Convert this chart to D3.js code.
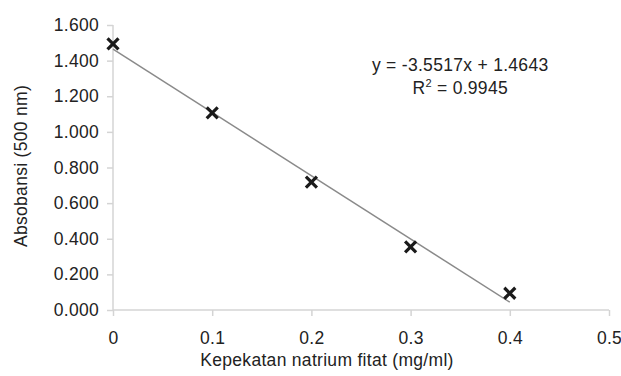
<!DOCTYPE html>
<html>
<head>
<meta charset="utf-8">
<script src="https://cdn.jsdelivr.net/npm/d3@7"></script>
<style>
  body { margin: 0; background: #fff; }
  text { font-family: "Liberation Sans", Arial, sans-serif; fill: #222; letter-spacing: 0.3px; }
</style>
</head>
<body>
<svg id="svg" width="621" height="376"></svg>
<script>
// data
const concentrations = [0, 0.1, 0.2, 0.3, 0.4];
const absorbances = [1.494, 1.107, 0.718, 0.355, 0.094];
const xTicks = [0, 0.1, 0.2, 0.3, 0.4, 0.5];
const yTicks = [0, 0.2, 0.4, 0.6, 0.8, 1.0, 1.2, 1.4, 1.6];
const trendSlope = -3.5517;
const trendIntercept = 1.4643;
const trendRange = [0, 0.4];
const equationLabel = 'y = -3.5517x + 1.4643';
const r2Value = '0.9945';

const margin = { top: 25, right: 12, bottom: 66, left: 113 };
const fontSize = '17.5px';

const svg = d3.select('#svg');
const g = svg.append('g')
  .attr('transform', 'translate(' + margin.left + ',' + margin.top + ')');

const x = d3.scaleLinear().domain([0, 0.5]).range([0, 496]);
const y = d3.scaleLinear().domain([0, 1.6]).range([285, 0]);

// axes
const xAxis = d3.axisBottom(x)
  .tickValues(xTicks)
  .tickSize(6)
  .tickPadding(16)
  .tickFormat(d => d === 0 ? '0' : d3.format('.1f')(d));
const gx = g.append('g')
  .attr('class', 'axis axis--x')
  .attr('transform', 'translate(0,285)')
  .call(xAxis);

const yAxis = d3.axisLeft(y)
  .tickValues(yTicks)
  .tickSize(6)
  .tickPadding(8)
  .tickFormat(d3.format('.3f'));
const gy = g.append('g')
  .attr('class', 'axis axis--y')
  .call(yAxis);

[gx, gy].forEach(a => {
  a.selectAll('path, line').attr('stroke', '#d4d4d4').attr('stroke-width', 1.5);
  a.select('.domain').attr('d', a === gx ? 'M0,0H496' : 'M0,0V285');
  a.selectAll('text')
    .style('font-size', fontSize)
    .attr('fill', '#222');
});
gx.selectAll('text').attr('dy', '0.71em');

// trendline
const line = d3.line()
  .x(d => x(d))
  .y(d => y(trendSlope * d + trendIntercept));
g.append('path')
  .datum(trendRange)
  .attr('d', line)
  .attr('fill', 'none')
  .attr('stroke', '#8a8a8a')
  .attr('stroke-width', 1.5);

// markers
const pts = concentrations.map((c, i) => ({ c: c, a: absorbances[i] }));
const s = 5.5;
g.append('g')
  .selectAll('path')
  .data(pts)
  .join('path')
  .attr('d', d => {
    const cx = x(d.c), cy = y(d.a);
    return 'M' + (cx - s) + ',' + (cy - s) + 'L' + (cx + s) + ',' + (cy + s) +
      'M' + (cx - s) + ',' + (cy + s) + 'L' + (cx + s) + ',' + (cy - s);
  })
  .attr('stroke', '#1a1a1a')
  .attr('stroke-width', 3.2)
  .attr('fill', 'none');

// equation
g.append('text')
  .attr('x', x(0.35))
  .attr('y', 46)
  .attr('text-anchor', 'middle')
  .style('font-size', fontSize)
  .text(equationLabel);
const r2 = g.append('text')
  .attr('x', x(0.35))
  .attr('y', 69)
  .attr('text-anchor', 'middle')
  .style('font-size', fontSize);
r2.append('tspan').text('R');
r2.append('tspan').attr('dy', -7).style('font-size', '11px').text('2');
r2.append('tspan').attr('dy', 7).text(' = ' + r2Value);

// axis titles
svg.append('text')
  .attr('x', 327)
  .attr('y', 366)
  .attr('text-anchor', 'middle')
  .style('font-size', fontSize)
  .text('Kepekatan natrium fitat (mg/ml)');

svg.append('text')
  .attr('transform', 'translate(27,166) rotate(-90)')
  .attr('text-anchor', 'middle')
  .style('font-size', fontSize)
  .text('Absobansi (500 nm)');
</script>
</body>
</html>
